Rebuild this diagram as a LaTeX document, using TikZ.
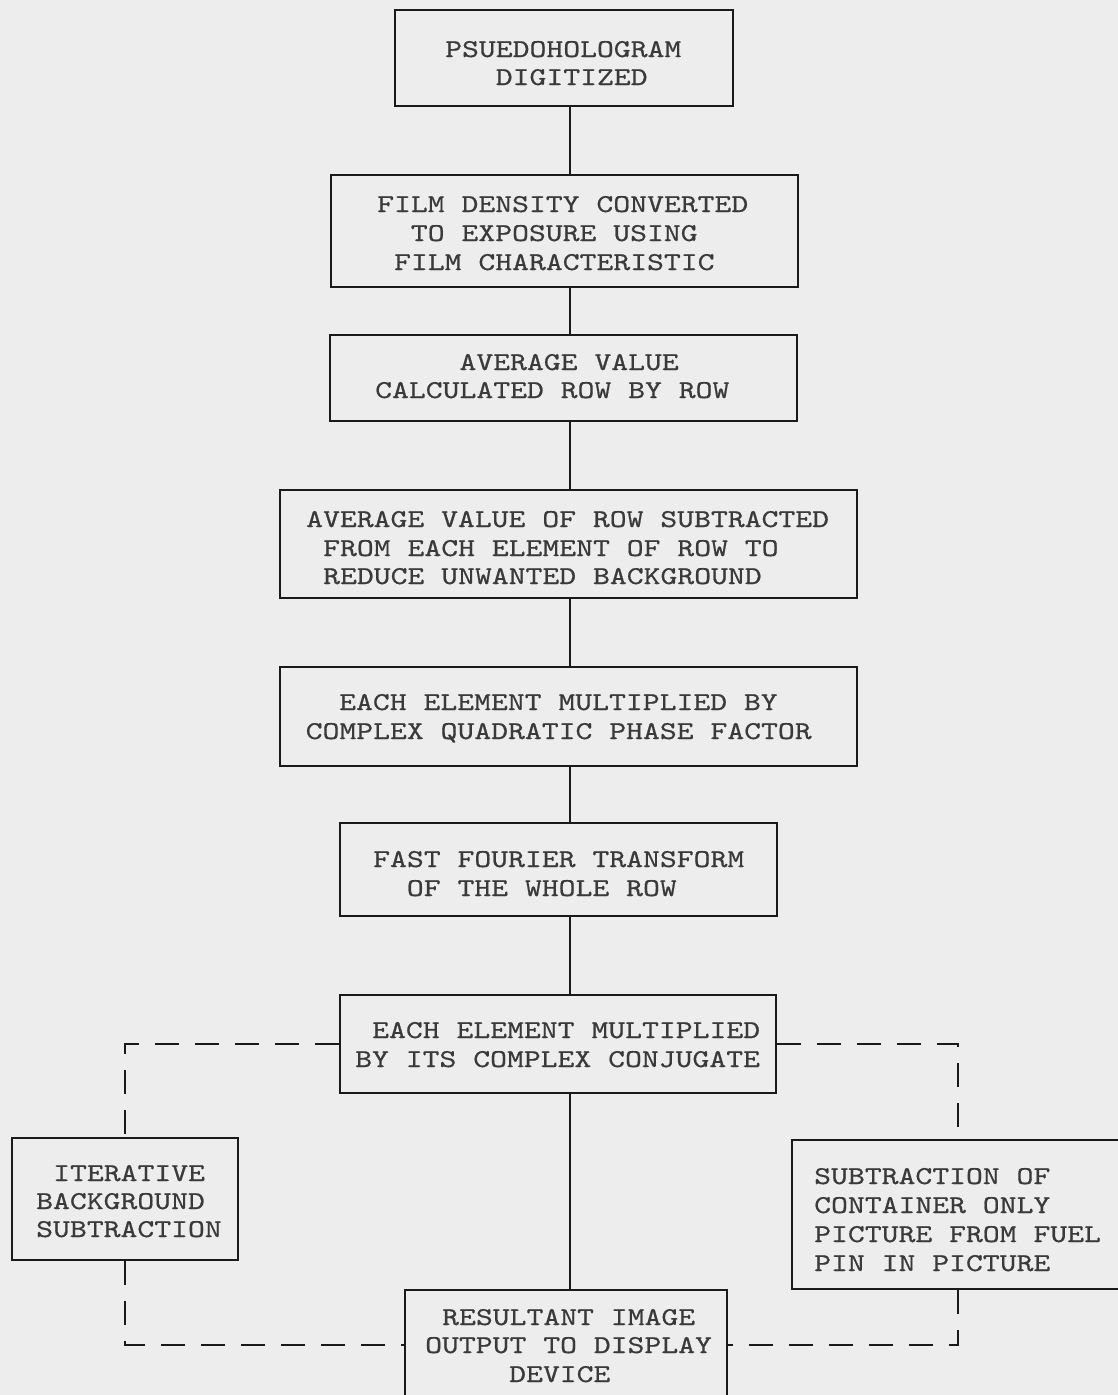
\documentclass[tikz,border=0pt]{standalone}
\usepackage{fontspec}
\setmonofont[FakeStretch=1.25,FakeBold=0.6]{lmmono10-regular.otf}
\definecolor{paper}{HTML}{EDEDED}
\definecolor{ink}{HTML}{1A1A1A}
\definecolor{typed}{HTML}{3A3A3A}
\tikzset{
  box/.style={draw=ink, line width=2.8pt, inner sep=0pt},
  txt/.style={anchor=base west, inner sep=0pt, text=typed,
    font=\ttfamily\fontsize{25.7}{28.7}\selectfont},
  link/.style={draw=ink, line width=2.4pt},
  dashlink/.style={draw=ink, line width=2.6pt, dash pattern=on 24pt off 16pt}
}
\begin{document}
\begin{tikzpicture}[x=1pt,y=-1pt]
\fill[paper] (0,0) rectangle (1118,1395);
\useasboundingbox (0,0) rectangle (1118,1395);

% boxes
\node[box, minimum width=338pt, minimum height=96pt]  (b1)  at (564,58) {};
\node[box, minimum width=467pt, minimum height=112pt] (b2)  at (564.5,231) {};
\node[box, minimum width=467pt, minimum height=86pt]  (b3)  at (563.5,378) {};
\node[box, minimum width=577pt, minimum height=108pt] (b4)  at (568.5,544) {};
\node[box, minimum width=577pt, minimum height=99pt]  (b5)  at (568.5,716.5) {};
\node[box, minimum width=437pt, minimum height=93pt]  (b6)  at (558.5,869.5) {};
\node[box, minimum width=436pt, minimum height=98pt]  (b7)  at (558,1044) {};
\node[box, minimum width=226pt, minimum height=122pt] (b8)  at (125,1199) {};
\node[box, minimum width=332pt, minimum height=149pt] (b9)  at (958,1214.5) {};
\node[box, minimum width=322pt, minimum height=110pt] (b10) at (566,1345) {};

% texts
\node[txt] (t1a) at (445,57) {PSUEDOHOLOGRAM};
\node[txt] (t1b) at (495.6,85) {DIGITIZED};

\node[txt] (t2a) at (377,212) {FILM DENSITY CONVERTED};
\node[txt] (t2b) at (410.7,241) {TO EXPOSURE USING};
\node[txt] (t2c) at (393.9,270) {FILM CHARACTERISTIC};

\node[txt] (t3a) at (459.3,370) {AVERAGE VALUE};
\node[txt] (t3b) at (375,398) {CALCULATED ROW BY ROW};

\node[txt] (t4a) at (306,527) {AVERAGE VALUE OF ROW SUBTRACTED};
\node[txt] (t4b) at (323,556) {FROM EACH ELEMENT OF ROW TO};
\node[txt] (t4c) at (323,584) {REDUCE UNWANTED BACKGROUND};

\node[txt] (t5a) at (339,710) {EACH ELEMENT MULTIPLIED BY};
\node[txt] (t5b) at (305.5,739) {COMPLEX QUADRATIC PHASE FACTOR};

\node[txt] (t6a) at (373,867) {FAST FOURIER TRANSFORM};
\node[txt] (t6b) at (406.7,896) {OF THE WHOLE ROW};

\node[txt] (t7a) at (372,1038) {EACH ELEMENT MULTIPLIED};
\node[txt] (t7b) at (355,1067) {BY ITS COMPLEX CONJUGATE};

\node[txt] (t8a) at (53,1181) {ITERATIVE};
\node[txt] (t8b) at (36,1209) {BACKGROUND};
\node[txt] (t8c) at (36,1237) {SUBTRACTION};

\node[txt] (t9a) at (814,1184) {SUBTRACTION OF};
\node[txt] (t9b) at (814,1213) {CONTAINER ONLY};
\node[txt] (t9c) at (814,1242) {PICTURE FROM FUEL};
\node[txt] (t9d) at (814,1271) {PIN IN PICTURE};

\node[txt] (t10a) at (442,1325) {RESULTANT IMAGE};
\node[txt] (t10b) at (425,1353) {OUTPUT TO DISPLAY};
\node[txt] (t10c) at (509,1382) {DEVICE};

% main spine
\coordinate (sp) at (570,0);
\foreach \a/\b in {b1/b2,b2/b3,b3/b4,b4/b5,b5/b6,b6/b7,b7/b10}
  \draw[link] (\a.south -| sp) -- (\b.north -| sp);

% dashed side loops
\draw[dashlink] (b7.west) -| (b8.north);
\draw[dashlink] (b8.south) |- (b10.west);
\draw[dashlink] (b7.east) -| (b9.north);
\draw[dashlink] (b9.south) |- (b10.east);
\end{tikzpicture}
\end{document}
